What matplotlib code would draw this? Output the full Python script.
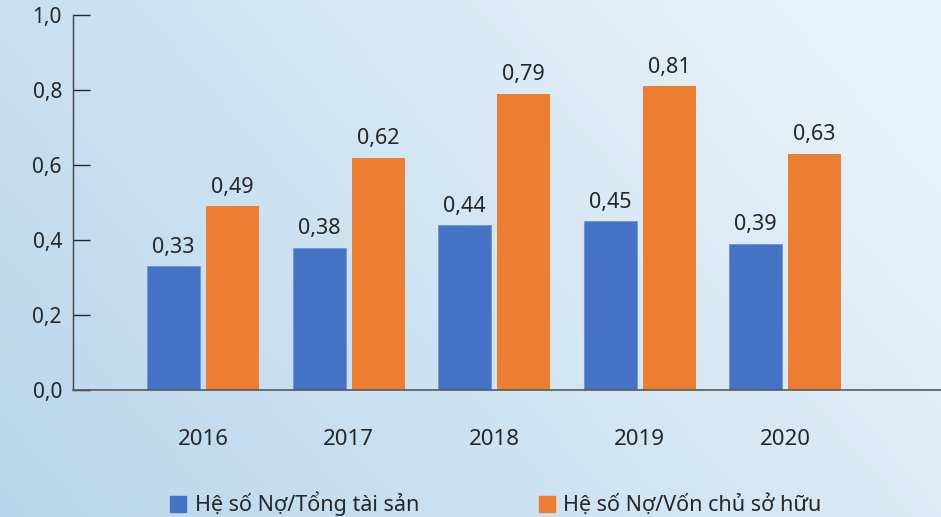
import numpy as np
import matplotlib.pyplot as plt
from matplotlib.patches import Patch

years = ['2016', '2017', '2018', '2019', '2020']
no_tong_tai_san = [0.33, 0.38, 0.44, 0.45, 0.39]
no_von_chu_so_huu = [0.49, 0.62, 0.79, 0.81, 0.63]
series_names = ['Hệ số Nợ/Tổng tài sản', 'Hệ số Nợ/Vốn chủ sở hữu']
y_ticks = [0.0, 0.2, 0.4, 0.6, 0.8, 1.0]

blue = '#4472C4'
orange = '#ED7D31'
text_color = '#262626'

plt.rcParams['font.family'] = ['Noto Sans', 'DejaVu Sans']

fig = plt.figure(figsize=(9.41, 5.17), dpi=100)

# background gradient (diagonal, darker bottom-left, lighter top-right)
bg = fig.add_axes([0, 0, 1, 1], zorder=-10)
gx, gy = np.meshgrid(np.linspace(0, 1, 300), np.linspace(0, 1, 200))
t = np.clip(0.75 * gx + 0.35 * (1 - gy), 0, 1)
c0 = np.array([184, 214, 235]) / 255
c1 = np.array([232, 242, 250]) / 255
img = c0[None, None, :] * (1 - t[..., None]) + c1[None, None, :] * t[..., None]
bg.imshow(img, aspect='auto', origin='upper', extent=[0, 1, 0, 1])
bg.axis('off')

ax = fig.add_axes([0.0776, 0.2456, 0.9224, 0.7254])
ax.patch.set_alpha(0)

x = np.arange(len(years))
w = 0.364
off = 0.2025
b1 = ax.bar(x - off, no_tong_tai_san, w, color=blue, edgecolor='#6f93d4', linewidth=0.6)
b2 = ax.bar(x + off, no_von_chu_so_huu, w, color=orange)

for bars, vals in [(b1, no_tong_tai_san), (b2, no_von_chu_so_huu)]:
    for r, v in zip(bars, vals):
        ax.annotate(('%.2f' % v).replace('.', ','),
                    (r.get_x() + r.get_width() / 2, v),
                    xytext=(0, 6), textcoords='offset points',
                    ha='center', va='bottom', fontsize=15.5, color=text_color)

ax.set_xlim(-0.893, 5.07)
ax.set_ylim(0, 1.0)
ax.set_yticks(y_ticks)
ax.set_yticklabels([('%.1f' % v).replace('.', ',') for v in y_ticks])
ax.set_xticks(x)
ax.set_xticklabels(years)

for s in ['top', 'right']:
    ax.spines[s].set_visible(False)
ax.spines['left'].set_color('#404040')
ax.spines['bottom'].set_color('#595959')
ax.spines['left'].set_linewidth(1.0)
ax.spines['bottom'].set_linewidth(1.2)

ax.tick_params(axis='y', direction='in', length=12, width=1, color='#262626',
               pad=8, labelsize=15, labelcolor=text_color)
ax.tick_params(axis='x', length=0, pad=28, labelsize=16, labelcolor=text_color)

handles = [Patch(color=blue), Patch(color=orange)]
fig.legend(handles, series_names, loc='lower left', bbox_to_anchor=(0.16, -0.036),
           ncol=2, frameon=False, fontsize=15.5, handlelength=0.75, handleheight=0.75,
           handletextpad=0.4, columnspacing=5.55, labelcolor=text_color)

fig.savefig('out.png', dpi=100)
